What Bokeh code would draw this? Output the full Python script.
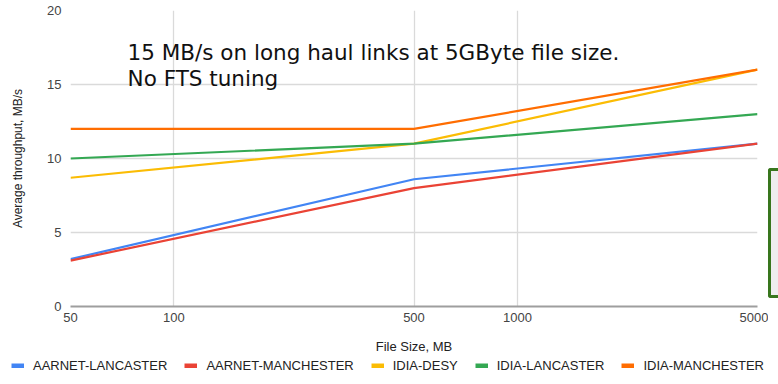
from bokeh.plotting import figure
from bokeh.models import (FixedTicker, Legend, LegendItem, Label, Div,
                          ColumnDataSource, Range1d)
from bokeh.layouts import row, column
from bokeh.embed import file_html
from bokeh.resources import INLINE

# ---- data ----
file_sizes = [50, 500, 5000]
series_names = ["AARNET-LANCASTER", "AARNET-MANCHESTER", "IDIA-DESY", "IDIA-LANCASTER", "IDIA-MANCHESTER"]
aarnet_lancaster = [3.2, 8.6, 11.0]
aarnet_manchester = [3.1, 8.0, 11.0]
idia_desy = [8.7, 11.0, 16.0]
idia_lancaster = [10.0, 11.0, 13.0]
idia_manchester = [12.0, 12.0, 16.0]
series_values = [aarnet_lancaster, aarnet_manchester, idia_desy, idia_lancaster, idia_manchester]
colors = ["#4285f4", "#ea4335", "#fbbc04", "#34a853", "#ff6d01"]
x_ticks = [50, 100, 500, 1000, 5000]
x_tick_labels = ["50", "100", "500", "1000", "5000"]
y_ticks = [0, 5, 10, 15, 20]
note_lines = ["15 MB/s on long haul links at 5GByte file size.", "No FTS tuning"]

FONT = "Liberation Sans"

p = figure(width=768, height=356, x_axis_type="log", output_backend="svg",
           toolbar_location=None, x_range=Range1d(50, 5000), y_range=Range1d(0, 20),
           min_border_left=70, min_border_right=11, min_border_top=10, min_border_bottom=50)
p.outline_line_color = None
p.background_fill_color = "white"
p.border_fill_color = "white"

# axes
p.xaxis.ticker = FixedTicker(ticks=x_ticks)
p.xaxis.major_label_overrides = {t: l for t, l in zip(x_ticks, x_tick_labels)}
p.yaxis.ticker = FixedTicker(ticks=y_ticks)
p.xaxis.minor_tick_line_color = None
p.yaxis.minor_tick_line_color = None
p.xaxis.major_tick_line_color = None
p.yaxis.major_tick_line_color = None
p.yaxis.axis_line_color = None
p.xaxis.axis_line_color = "#9e9e9e"
p.xaxis.axis_line_width = 2
for ax in (p.xaxis, p.yaxis):
    ax.major_label_text_font = FONT
    ax.major_label_text_font_size = "13px"
    ax.major_label_text_color = "#444444"
    ax.axis_label_text_font = FONT
    ax.axis_label_text_font_style = "normal"
    ax.axis_label_text_color = "#222222"
p.xaxis.axis_label = "File Size, MB"
p.yaxis.axis_label = "Average throughput, MB/s"
p.xaxis.axis_label_text_font_size = "13px"
p.yaxis.axis_label_text_font_size = "12px"
p.xaxis.major_label_standoff = 0
p.yaxis.major_label_standoff = 3
p.xaxis.axis_label_standoff = 14
p.yaxis.axis_label_standoff = 19

p.xgrid.grid_line_color = "#dadada"
p.ygrid.grid_line_color = "#dadada"
p.xgrid.grid_line_width = 1.3
p.ygrid.grid_line_width = 1.3

for name, vals, c in zip(series_names, series_values, colors):
    src = ColumnDataSource(dict(x=file_sizes, y=vals))
    p.line("x", "y", source=src, line_color=c, line_width=2.2, line_join="round")

# text note
for i, line in enumerate(note_lines):
    p.add_layout(Label(x=73.3, y=17.16 - i * 1.757, text=line, text_font="DejaVu Sans",
                       text_font_size="21.5px", text_color="#111111",
                       text_baseline="alphabetic", text_align="left"))

# partially visible green box at right edge
box = Div(text="", width=10, height=130, margin=(168, 0, 0, 0),
          styles={"border-left": "3px solid #38761d", "border-top": "3px solid #38761d",
                  "border-bottom": "3px solid #38761d", "background-color": "#eeeeee",
                  "border-radius": "3px 0 0 3px", "box-sizing": "border-box"})

# legend strip below the chart (proxy lines lie outside its visible range)
lf = figure(width=778, height=28, output_backend="svg", toolbar_location=None,
            x_range=Range1d(0, 1), y_range=Range1d(0, 1),
            x_axis_location=None, y_axis_location=None,
            min_border_left=0, min_border_right=0, min_border_top=0, min_border_bottom=0)
lf.outline_line_color = None
lf.xgrid.visible = False
lf.ygrid.visible = False
items = []
for name, vals, c in zip(series_names, series_values, colors):
    proxy = lf.line(file_sizes, vals, line_color=c, line_width=5, line_cap="butt")
    items.append(LegendItem(label=name, renderers=[proxy]))
legend = Legend(items=items, orientation="horizontal", location=(11, 11),
                glyph_width=13, glyph_height=5, label_standoff=9, spacing=17,
                padding=0, margin=0, label_height=14,
                label_text_font=FONT, label_text_font_size="13px", label_text_color="#222222",
                border_line_color=None, background_fill_alpha=0)
lf.add_layout(legend, "center")

layout = column(row(p, box, spacing=0), lf, spacing=0)
open("out.html", "w").write(file_html(layout, INLINE))
